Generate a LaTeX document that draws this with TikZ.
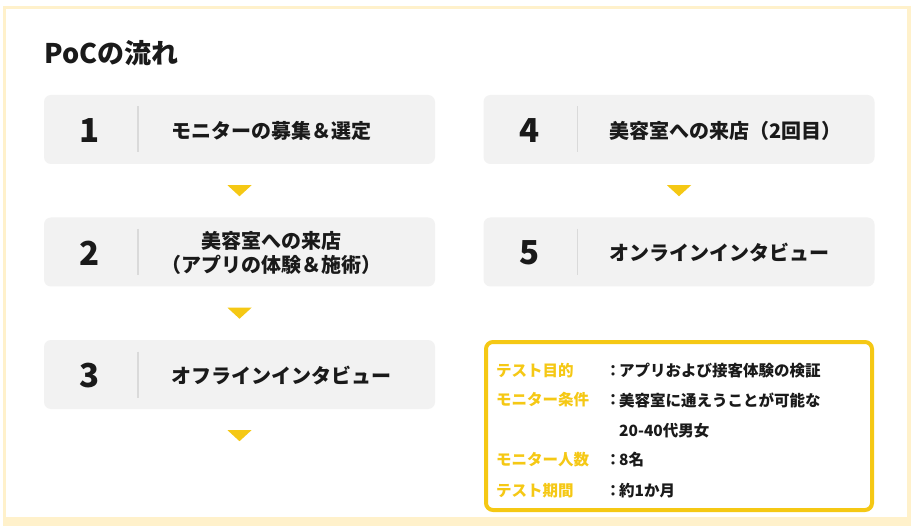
\documentclass[tikz,border=0pt]{standalone}
\usepackage{fontspec}
\setmainfont{Noto Sans CJK JP}
\usetikzlibrary{calc}
\definecolor{framec}{HTML}{FFF1CB}
\definecolor{boxg}{HTML}{F2F2F2}
\definecolor{divg}{HTML}{DADADA}
\definecolor{gold}{HTML}{F5C814}
\definecolor{ink}{HTML}{1A1A1A}
\tikzset{
  stepbox/.style={fill=boxg, rounded corners=7pt, minimum width=391pt, minimum height=69pt, inner sep=0pt, draw=none},
  numtext/.style={font=\bfseries\fontsize{33}{33}\selectfont, text=ink, inner sep=0pt},
  steptext/.style={font=\bfseries\fontsize{20}{24}\selectfont, text=ink, inner sep=0pt, anchor=west},
  divline/.style={draw=divg, line width=1.5pt},
  tri/.style={fill=gold},
  infobox/.style={draw=gold, line width=4pt, rounded corners=7pt, minimum width=386pt, minimum height=168pt, inner sep=0pt},
  infolbl/.style={font=\bfseries\fontsize{15.5}{18}\selectfont, text=gold, inner sep=0pt, anchor=west},
  infoval/.style={font=\bfseries\fontsize{15.5}{18}\selectfont, text=ink, inner sep=0pt, anchor=west},
  infocol/.style={font=\bfseries\fontsize{15.5}{18}\selectfont, text=ink, inner sep=0pt}
}
\newcommand\downtri[1]{\fill[tri] ($#1+(-12,-5.5)$) -- ++(24,0) -- ++(-12,11) -- cycle;}
\begin{document}
\begin{tikzpicture}[x=1pt,y=-1pt]
\useasboundingbox (0,0) rectangle (913,529);
\fill[framec] (3,6) rectangle (911,526);
\fill[white] (6,9) rectangle (907,517);

\node[font=\bfseries\fontsize{27}{27}\selectfont, text=ink, inner sep=0pt, anchor=west] (title) at (44,53) {PoCの流れ};

% step boxes
\node[stepbox] (b1) at (239.5,129.5) {};
\node[stepbox] (b2) at (239.5,252) {};
\node[stepbox] (b3) at (239.5,374.5) {};
\node[stepbox] (b4) at (679,129.5) {};
\node[stepbox] (b5) at (679,252) {};

\foreach \b/\n in {b1/1,b2/2,b3/3,b4/4,b5/5}{
  \node[numtext] (n\n) at ($(\b.west)+(46,1)$) {\n};
  \draw[divline] ($(\b.west)+(94,-23)$) -- ($(\b.west)+(94,23)$);
}

\node[steptext] (t1) at ($(b1.west)+(127,1)$) {モニターの募集＆選定};
\node[steptext, anchor=center, align=center] (t2) at ($(b2.west)+(228,1)$) {美容室への来店\\（アプリの体験＆施術）};
\node[steptext] (t3) at ($(b3.west)+(127,1)$) {オフラインインタビュー};
\node[steptext] (t4) at ($(b4.west)+(126,1)$) {美容室への来店（2回目）};
\node[steptext] (t5) at ($(b5.west)+(126,1)$) {オンラインインタビュー};

% arrows
\downtri{($(b1.south)!0.5!(b2.north)$)}
\downtri{($(b2.south)!0.5!(b3.north)$)}
\downtri{($(b3.south)+(0,26.5)$)}
\downtri{($(b4.south)!0.5!(b5.north)$)}

% info box
\node[infobox] (info) at (679,426) {};
\node[infolbl] (l1) at (496,370.5) {テスト目的};
\node[infolbl] (l2) at (496,400) {モニター条件};
\node[infolbl] (l4) at (496,460) {モニター人数};
\node[infolbl] (l5) at (496,491) {テスト期間};
\node[infocol] (c1) at (613,370.5) {：};
\node[infocol] (c2) at (613,400) {：};
\node[infocol] (c4) at (613,460) {：};
\node[infocol] (c5) at (613,491) {：};
\node[infoval] (v1) at (619,370.5) {アプリおよび接客体験の検証};
\node[infoval] (v2) at (619,400) {美容室に通えうことが可能な};
\node[infoval] (v3) at (619,431) {20-40代男女};
\node[infoval] (v4) at (619,460) {8名};
\node[infoval] (v5) at (619,491) {約1か月};
\end{tikzpicture}
\end{document}
